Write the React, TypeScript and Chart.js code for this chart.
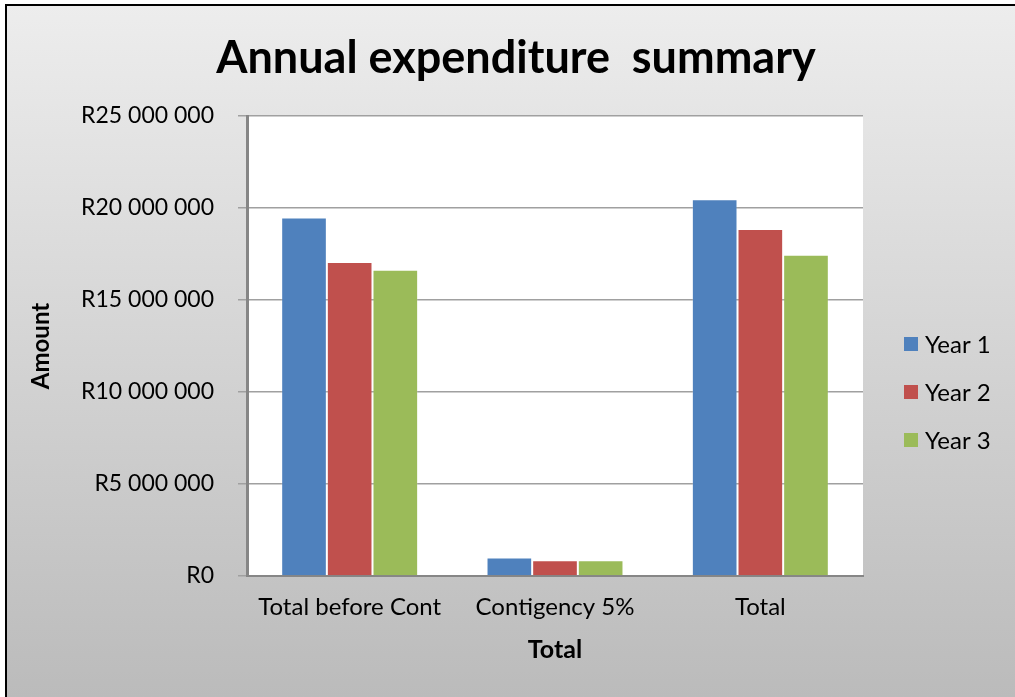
import React, { useEffect, useRef } from "react";
import { Chart, registerables } from "chart.js";

Chart.register(...registerables);

const categories = ["Total before Cont", "Contigency 5%", "Total"];
const seriesNames = ["Year 1", "Year 2", "Year 3"];
const year1 = [19490000, 1010000, 20470000];
const year2 = [17060000, 860000, 18860000];
const year3 = [16640000, 860000, 17460000];
const seriesColors = ["#4f81bd", "#c0504d", "#9bbb59"];
const yTicks = [0, 5000000, 10000000, 15000000, 20000000, 25000000];
const titleText = "Annual expenditure  summary";

const FONT = "Lato, 'Open Sans', sans-serif";

function formatRand(v: number): string {
  if (v === 0) return "R0";
  const s = Math.round(v).toString();
  return "R" + s.replace(/\B(?=(\d{3})+(?!\d))/g, " ");
}

const backgroundPlugin = {
  id: "bgPlugin",
  beforeDraw(chart: any) {
    const { ctx, width, height, chartArea } = chart;
    ctx.save();
    ctx.fillStyle = "#ffffff";
    ctx.fillRect(0, 0, width, height);
    const g = ctx.createLinearGradient(0, 5, 0, height);
    g.addColorStop(0, "#ededed");
    g.addColorStop(1, "#bbbbbb");
    ctx.fillStyle = g;
    ctx.fillRect(6, 5, width - 6, height - 5);
    ctx.strokeStyle = "#000000";
    ctx.lineWidth = 2;
    ctx.beginPath();
    ctx.moveTo(6, height);
    ctx.lineTo(6, 5);
    ctx.lineTo(width, 5);
    ctx.stroke();
    // plot area
    ctx.fillStyle = "#ffffff";
    ctx.fillRect(chartArea.left, chartArea.top, chartArea.right - chartArea.left, chartArea.bottom - chartArea.top);
    // title
    ctx.fillStyle = "#000000";
    ctx.font = `bold 45px ${FONT}`;
    ctx.textAlign = "center";
    ctx.textBaseline = "middle";
    ctx.fillText(titleText, 516, 58);
    ctx.restore();
  },
  afterDraw(chart: any) {
    const { ctx } = chart;
    ctx.save();
    ctx.font = `24px ${FONT}`;
    ctx.textBaseline = "middle";
    ctx.textAlign = "left";
    chart.data.datasets.forEach((ds: any, i: number) => {
      const cy = 344 + i * 48;
      ctx.fillStyle = ds.backgroundColor;
      ctx.fillRect(904, cy - 7, 14, 14);
      ctx.fillStyle = "#000000";
      ctx.fillText(ds.label, 925, cy + 1);
    });
    ctx.restore();
  },
};

export default function App() {
  const ref = useRef<HTMLCanvasElement | null>(null);
  useEffect(() => {
    if (!ref.current) return;
    const seriesData = [year1, year2, year3];
    const chart = new Chart(ref.current, {
      type: "bar",
      data: {
        labels: categories,
        datasets: seriesNames.map((name, i) => ({
          label: name,
          data: seriesData[i],
          backgroundColor: seriesColors[i],
          borderColor: "rgba(255,255,255,0.18)",
          borderWidth: 1,
          categoryPercentage: 0.667,
          barPercentage: 1,
        })),
      },
      options: {
        responsive: false,
        animation: false,
        devicePixelRatio: 1,
        layout: { padding: { left: 0, top: 116, right: 152, bottom: 0 } },
        plugins: {
          legend: { display: false },
          title: { display: false },
          tooltip: { enabled: false },
        },
        scales: {
          x: {
            grid: { display: false, drawTicks: false },
            border: { display: true, color: "#868686", width: 2 },
            ticks: {
              color: "#000000",
              font: { family: FONT, size: 24 },
              padding: 17,
              maxRotation: 0,
              autoSkip: false,
            },
            title: {
              display: true,
              text: "Total",
              color: "#000000",
              font: { family: FONT, size: 25, weight: "bold" },
              padding: { top: 0, bottom: 32 },
            },
            afterFit(scale: any) {
              scale.height = 121;
            },
          },
          y: {
            min: 0,
            max: 25000000,
            afterBuildTicks(scale: any) {
              scale.ticks = yTicks.map((v) => ({ value: v }));
            },
            grid: {
              color: "#a0a0a0",
              lineWidth: 1.5,
              drawTicks: true,
              tickLength: 9,
              tickColor: "#a0a0a0",
            },
            border: { display: true, color: "#868686", width: 3 },
            ticks: {
              color: "#000000",
              font: { family: FONT, size: 23 },
              padding: 24,
              callback: (v: any) => formatRand(Number(v)),
            },
            title: {
              display: true,
              text: "Amount",
              color: "#000000",
              font: { family: FONT, size: 24, weight: "bold" },
              padding: { top: 27, bottom: 0 },
            },
            afterFit(scale: any) {
              scale.width = 247;
            },
          },
        },
      },
      plugins: [backgroundPlugin],
    });
    return () => chart.destroy();
  }, []);
  return (
    <div style={{ position: "absolute", left: 0, top: 0, width: 1015, height: 697 }}>
      <canvas ref={ref} width={1015} height={697} style={{ display: "block" }} />
    </div>
  );
}
